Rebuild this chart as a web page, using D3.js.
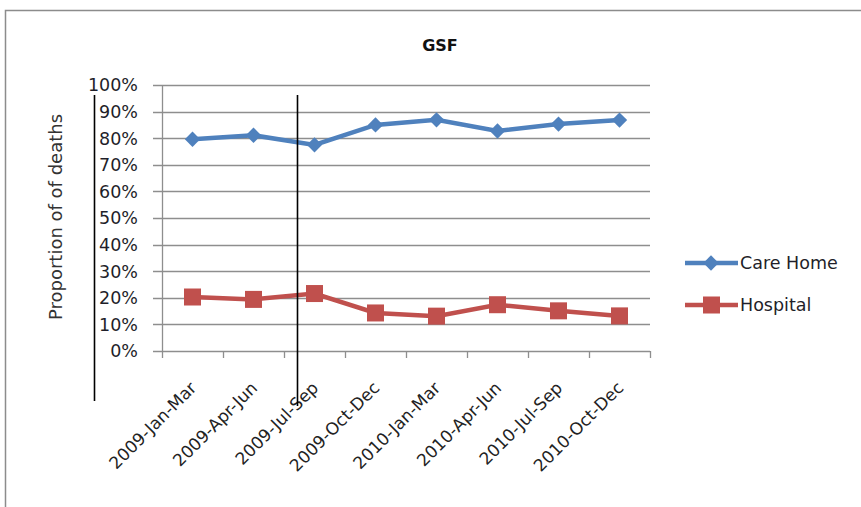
<!DOCTYPE html>
<html>
<head>
<meta charset="utf-8">
<script src="https://cdn.jsdelivr.net/npm/d3@7"></script>
<style>
  body { margin: 0; background: #fff; }
  text { font-family: "DejaVu Sans", Verdana, sans-serif; }
</style>
</head>
<body>
<div id="chart"></div>
<script>
// chart data
var categories = ["2009-Jan-Mar", "2009-Apr-Jun", "2009-Jul-Sep", "2009-Oct-Dec",
                  "2010-Jan-Mar", "2010-Apr-Jun", "2010-Jul-Sep", "2010-Oct-Dec"];
var careHome = [79.6, 81.1, 77.5, 85.0, 86.9, 82.7, 85.3, 86.8];
var hospital = [20.3, 19.4, 21.6, 14.3, 13.1, 17.4, 15.1, 13.2];
var yTicks = [0, 10, 20, 30, 40, 50, 60, 70, 80, 90, 100];

var svgWidth = 861;
var svgHeight = 507;

var svg = d3.select("#chart")
  .append("svg")
  .attr("width", svgWidth)
  .attr("height", svgHeight);

// outer frame of the chart
svg.append("rect")
  .attr("x", 5.5).attr("y", 10.5)
  .attr("width", 900).attr("height", 600)
  .attr("fill", "none")
  .attr("stroke", "#8c8c8c")
  .attr("stroke-width", 1.5);

var plot = { left: 162, right: 650, top: 85, bottom: 351 };

var x = d3.scaleBand().domain(categories).range([plot.left, plot.right]);
var y = d3.scaleLinear().domain([0, 100]).range([plot.bottom, plot.top]);

// gridlines
svg.append("g")
  .selectAll("line")
  .data(yTicks)
  .enter()
  .append("line")
  .attr("x1", plot.left - 9)
  .attr("x2", plot.right)
  .attr("y1", d => Math.round(y(d)) + 0.5)
  .attr("y2", d => Math.round(y(d)) + 0.5)
  .attr("stroke", "#8e8e8e")
  .attr("stroke-width", 1.3);

// y axis line
svg.append("line")
  .attr("x1", plot.left + 0.5).attr("x2", plot.left + 0.5)
  .attr("y1", plot.top).attr("y2", plot.bottom)
  .attr("stroke", "#8e8e8e").attr("stroke-width", 1.3);

// y tick labels
svg.append("g")
  .selectAll("text")
  .data(yTicks)
  .enter()
  .append("text")
  .attr("x", 138)
  .attr("y", d => y(d))
  .attr("dy", "0.36em")
  .attr("text-anchor", "end")
  .attr("font-size", 17.5)
  .attr("fill", "#1f1f2a")
  .text(d => d + "%");

// x axis ticks
var tickPos = categories.map(c => x(c)).concat([plot.right]);
svg.append("g")
  .selectAll("line")
  .data(tickPos)
  .enter()
  .append("line")
  .attr("x1", d => Math.round(d) + 0.5)
  .attr("x2", d => Math.round(d) + 0.5)
  .attr("y1", plot.bottom)
  .attr("y2", plot.bottom + 7)
  .attr("stroke", "#8e8e8e").attr("stroke-width", 1.3);

// x labels, rotated
svg.append("g")
  .selectAll("text")
  .data(categories)
  .enter()
  .append("text")
  .attr("transform", d => `translate(${x(d) + x.bandwidth() / 2 + 5}, ${plot.bottom + 38}) rotate(-45)`)
  .attr("text-anchor", "end")
  .attr("font-size", 17)
  .attr("fill", "#222")
  .text(d => d);

// title
svg.append("text")
  .attr("x", 440).attr("y", 51)
  .attr("text-anchor", "middle")
  .attr("font-size", 16)
  .attr("font-weight", "bold")
  .attr("fill", "#111")
  .text("GSF");

// y axis title
svg.append("text")
  .attr("transform", "translate(62, 217) rotate(-90)")
  .attr("text-anchor", "middle")
  .attr("font-size", 18)
  .attr("fill", "#333")
  .text("Proportion of of deaths");

var line = d3.line()
  .x((d, i) => x(categories[i]) + x.bandwidth() / 2)
  .y(d => y(d));

var blue = "#4f81bd";
var red = "#c0504d";

svg.append("path").datum(careHome)
  .attr("d", line).attr("fill", "none")
  .attr("stroke", blue).attr("stroke-width", 4.5);
svg.append("path").datum(hospital)
  .attr("d", line).attr("fill", "none")
  .attr("stroke", red).attr("stroke-width", 4.5);

var diamond = d3.symbol().type(d3.symbolDiamond2).size(150);

svg.append("g")
  .selectAll("path")
  .data(careHome)
  .enter()
  .append("path")
  .attr("d", diamond)
  .attr("transform", (d, i) => `translate(${x(categories[i]) + x.bandwidth() / 2}, ${y(d)})`)
  .attr("fill", blue);

svg.append("g")
  .selectAll("rect")
  .data(hospital)
  .enter()
  .append("rect")
  .attr("x", (d, i) => x(categories[i]) + x.bandwidth() / 2 - 8.5)
  .attr("y", d => y(d) - 8.5)
  .attr("width", 17).attr("height", 17)
  .attr("fill", red);

// legend
var legend = [
  { name: "Care Home", color: blue, y: 263, marker: "diamond" },
  { name: "Hospital", color: red, y: 305, marker: "square" }
];
legend.forEach(function(l) {
  svg.append("line")
    .attr("x1", 685).attr("x2", 738)
    .attr("y1", l.y).attr("y2", l.y)
    .attr("stroke", l.color).attr("stroke-width", 4.5);
  if (l.marker == "diamond") {
    svg.append("path").attr("d", diamond)
      .attr("transform", `translate(711, ${l.y})`)
      .attr("fill", l.color);
  } else {
    svg.append("rect")
      .attr("x", 703).attr("y", l.y - 8.5)
      .attr("width", 17).attr("height", 17)
      .attr("fill", l.color);
  }
  svg.append("text")
    .attr("x", 740).attr("y", l.y)
    .attr("dy", "0.36em")
    .attr("font-size", 17.5)
    .attr("fill", "#1f1f2a")
    .text(l.name);
});

// the two black vertical annotation lines
svg.append("line")
  .attr("x1", 94.5).attr("x2", 94.5).attr("y1", 95).attr("y2", 401)
  .attr("stroke", "#000").attr("stroke-width", 1.6);
svg.append("line")
  .attr("x1", 297.5).attr("x2", 297.5).attr("y1", 95).attr("y2", 406)
  .attr("stroke", "#000").attr("stroke-width", 1.6);
</script>
</body>
</html>
